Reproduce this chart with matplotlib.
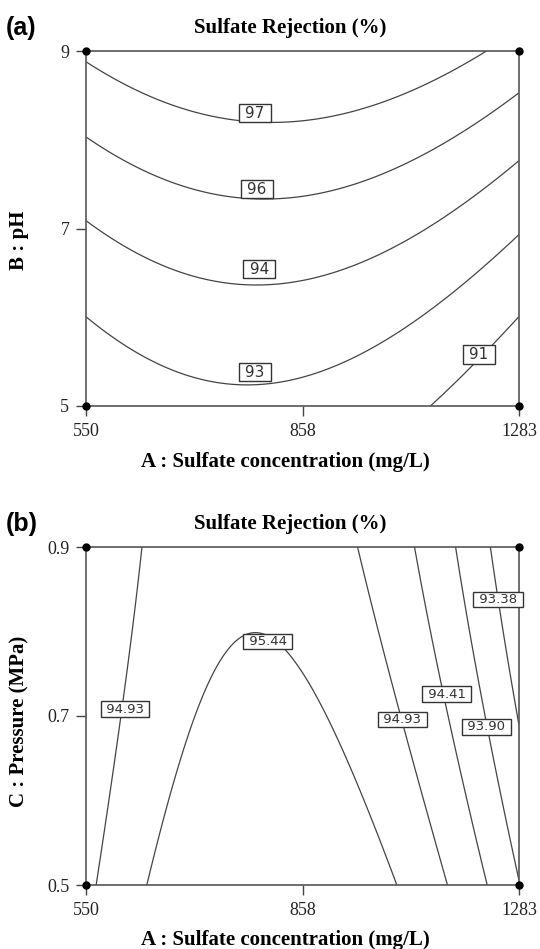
import numpy as np
import matplotlib.pyplot as plt

# coded factor levels (-1, 0, +1) and their tick labels
coded = [-1, 0, 1]
a_ticks = ['550', '858', '1283']
b_ticks = ['5', '7', '9']
c_ticks = ['0.5', '0.7', '0.9']

# quadratic response models in coded units: b0, b1*x, b2*y, b12*x*y, b11*x^2, b22*y^2
coef_ab = [94.905, -0.626, 3.208, 0.254, -1.662, 0.403]
coef_ac = [95.527, -0.605, -0.353, -0.160, -1.570, 0.052]

# contour levels and the labels printed on them
levels_ab = [91.0, 92.5, 94.0, 95.5, 97.0]
labels_ab = ['91', '93', '94', '96', '97']
levels_ac = [93.38, 93.90, 94.41, 94.93, 95.44]
labels_ac = ['93.38', '93.90', '94.41', '94.93', '95.44']

# where the boxed labels sit (coded units)
pos_ab = {'97': (-0.22, 0.65), '96': (-0.21, 0.22), '94': (-0.20, -0.23),
          '93': (-0.22, -0.81), '91': (0.815, -0.71)}
pos_ac = [('94.93', -0.82, 0.04), ('95.44', -0.16, 0.44), ('94.93', 0.46, -0.02),
          ('94.41', 0.667, 0.13), ('93.90', 0.848, -0.065), ('93.38', 0.903, 0.69)]

serif = 'Liberation Serif'
W, H = 540, 949


def surface(c, n=300):
    g = np.linspace(-1, 1, n)
    X, Y = np.meshgrid(g, g)
    Z = c[0] + c[1] * X + c[2] * Y + c[3] * X * Y + c[4] * X**2 + c[5] * Y**2
    return X, Y, Z


def draw_panel(ax, coef, levels, ylabels, label_items, fs):
    X, Y, Z = surface(coef)
    ax.contour(X, Y, Z, levels=levels, colors='#444444', linewidths=0.9)
    ax.set_xlim(-1, 1)
    ax.set_ylim(-1, 1)
    ax.set_xticks(coded)
    ax.set_xticklabels(a_ticks)
    ax.set_yticks(coded)
    ax.set_yticklabels(ylabels)
    ax.tick_params(direction='out', length=7, width=1, color='#444444',
                   pad=5, labelsize=13, labelcolor='#222222')
    for t in ax.get_xticklabels() + ax.get_yticklabels():
        t.set_family(serif)
    for s in ax.spines.values():
        s.set_color('#555555')
        s.set_linewidth(1.2)
    # corner design points
    ax.plot([-1, 1, -1, 1], [-1, -1, 1, 1], 'o', color='black', ms=5,
            clip_on=False, zorder=6)
    for txt, x, y in label_items:
        ax.text(x, y, ' ' + txt + ' ', ha='center', va='center', fontsize=fs,
                color='#333333', family='DejaVu Sans', zorder=5,
                bbox=dict(boxstyle='square,pad=0.1', fc='white', ec='#333333', lw=1))


fig = plt.figure(figsize=(W / 100, H / 100), dpi=100)

ax1 = fig.add_axes([86 / W, 1 - 406 / H, 433 / W, 355 / H])
draw_panel(ax1, coef_ab, levels_ab, b_ticks,
           [(k, v[0], v[1]) for k, v in pos_ab.items()], 11)

ax2 = fig.add_axes([86 / W, 1 - 885 / H, 433 / W, 338 / H])
draw_panel(ax2, coef_ac, levels_ac, c_ticks, pos_ac, 9.5)

# titles, axis names and panel letters
for top, letter in [(28, '(a)'), (524, '(b)')]:
    fig.text(290 / W, 1 - top / H, 'Sulfate Rejection (%)', ha='center', va='center',
             family=serif, weight='bold', fontsize=15)
    fig.text(6 / W, 1 - top / H, letter, ha='left', va='center',
             family='Liberation Sans', weight='bold', fontsize=18)
for y in [462, 940]:
    fig.text(285 / W, 1 - y / H, 'A : Sulfate concentration (mg/L)', ha='center',
             va='center', family=serif, weight='bold', fontsize=15)
fig.text(19 / W, 1 - 240 / H, 'B : pH', rotation=90, ha='center', va='center',
         family=serif, weight='bold', fontsize=15)
fig.text(19 / W, 1 - 721 / H, 'C : Pressure (MPa)', rotation=90, ha='center', va='center',
         family=serif, weight='bold', fontsize=15)

fig.savefig('out.png', dpi=100)
